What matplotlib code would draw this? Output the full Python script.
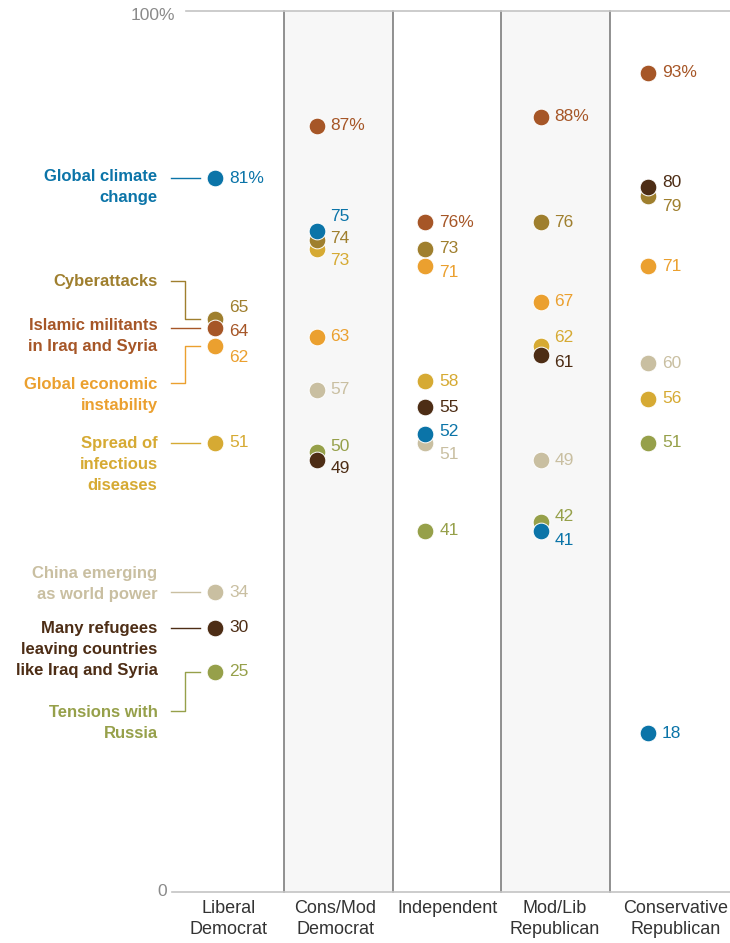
import numpy as np
import matplotlib
matplotlib.use("Agg")
import matplotlib.pyplot as plt

plt.rcParams['font.family'] = ['Liberation Sans', 'DejaVu Sans']

# groups along the x axis
groups = ["Liberal\nDemocrat", "Cons/Mod\nDemocrat", "Independent",
          "Mod/Lib\nRepublican", "Conservative\nRepublican"]

# threats (series), in the order listed at the left
threats = ["Global climate\nchange", "Cyberattacks",
           "Islamic militants\nin Iraq and Syria", "Global economic\ninstability",
           "Spread of\ninfectious\ndiseases", "China emerging\nas world power",
           "Many refugees\nleaving countries\nlike Iraq and Syria",
           "Tensions with\nRussia"]

# % saying each is a major threat, per group
climate = [81, 75, 52, 41, 18]
cyber = [65, 74, 73, 76, 79]
isis = [64, 87, 76, 88, 93]
economy = [62, 63, 71, 67, 71]
disease = [51, 73, 58, 62, 56]
china = [34, 57, 51, 49, 60]
refugees = [30, 49, 55, 61, 80]
russia = [25, 50, 41, 42, 51]

colors = ["#0b74a8", "#9f7f2e", "#a65627", "#eba02f",
          "#d6aa33", "#c9bfa1", "#4d2d15", "#96a04a"]

# layout bits
dot_x = [0.365, 0.30, 0.30, 0.36, 0.35]          # dot offset inside each band
label_y = [81.4, 69.4, 64.4, 57.8, 51, 36.3, 30, 20.5]  # first line of left labels
# vertical nudge (px) of value labels, per group, in series order
nudge = [[0, 12, -3, -12, 0, 0, 0, 0],
         [15, 2, 0, 0, -12, 0, -8, 5],
         [2, 0, 0, -6, 0, -12, 0, 0],
         [-10, 0, 0, 0, 8, 0, -8, 5],
         [0, -10, 0, 0, 0, 0, 5, 0]]
group_lab_x = [0.49, 1.47, 2.5, 3.49, 4.6]
draw_order = [4, 3, 5, 7, 1, 2, 6, 0]

series = [climate, cyber, isis, economy, disease, china, refugees, russia]

W, H = 730, 943
fig = plt.figure(figsize=(W / 100, H / 100), dpi=100)
px_unit = 8.81
ylo, yhi = -2, 101
ax = fig.add_axes([159 / W, (51 + ylo * px_unit) / H, (730 - 159) / W,
                   (yhi - ylo) * px_unit / H])
ax.set_xlim(-0.15, 5.103)
ax.set_ylim(ylo, yhi)
ax.axis("off")

# shaded bands and separators
for b in [1, 3]:
    ax.fill_between([b, b + 1], 0, 100, color="#f7f7f7", zorder=0, lw=0)
for b in [1, 2, 3, 4]:
    ax.plot([b, b], [0, 100], color="#737373", lw=1.1, zorder=1)

ax.plot([0.1, 5.103], [100, 100], color="#c4c4c4", lw=1.2, zorder=1)
ax.plot([-0.03, 5.103], [0, 0], color="#c4c4c4", lw=1.2, zorder=1)
ax.text(0.0, 99.5, "100%", ha="right", va="center", fontsize=12.5, color="#8a8a8a")
ax.text(-0.075, 0, "0", ha="right", va="center", fontsize=12.5, color="#8a8a8a")

for g, lab in enumerate(groups):
    ax.text(group_lab_x[g], -0.9, lab, ha="center", va="top", fontsize=13,
            color="#333333", linespacing=1.33)

# dots + value labels
for z, s in enumerate(draw_order):
    vals = series[s]
    xs = np.arange(len(groups)) + np.array(dot_x)
    ax.scatter(xs, vals, s=145, color=colors[s], edgecolor="white",
               linewidth=0.7, zorder=5 + z)
    for g in range(len(groups)):
        col_vals = [ser[g] for ser in series]
        txt = str(vals[g]) + ("%" if vals[g] == max(col_vals) else "")
        ax.annotate(txt, (xs[g], vals[g]), xytext=(10, nudge[g][s] / 1.389),
                    textcoords="offset points", ha="left", va="center",
                    fontsize=12.5, color=colors[s])

# left-hand labels with connectors
for s, name in enumerate(threats):
    c = colors[s]
    ax.annotate(name, (-0.15, label_y[s]), xytext=(-1, 4.5),
                textcoords="offset points", ha="right", va="top",
                fontsize=12, fontweight="bold", color=c, linespacing=1.5,
                annotation_clip=False)
    v = series[s][0]
    if s == 5:
        ly = v
    else:
        ly = label_y[s]
    if abs(ly - v) < 0.5:
        ax.plot([-0.04, 0.23], [v, v], color=c, lw=1, clip_on=False)
    else:
        ax.plot([-0.04, 0.089, 0.089, 0.23], [ly, ly, v, v], color=c, lw=1,
                clip_on=False)

fig.savefig("out.png", dpi=100)
